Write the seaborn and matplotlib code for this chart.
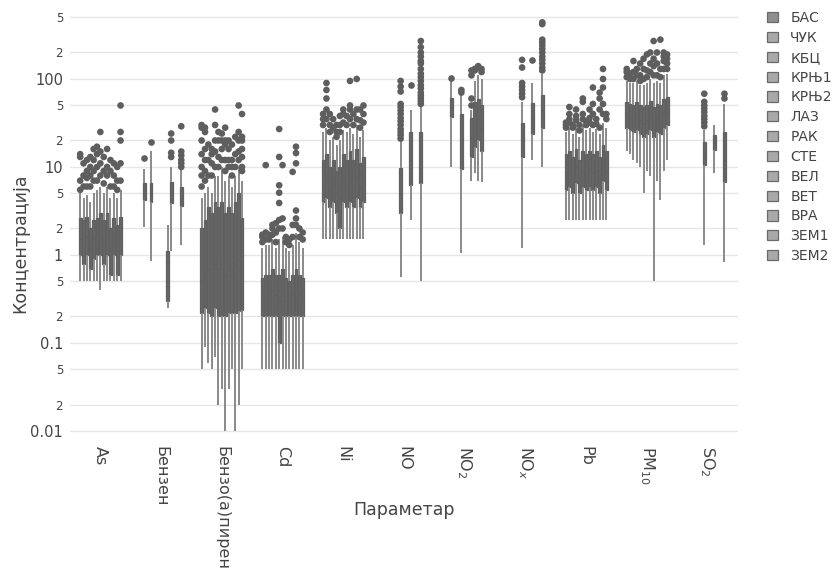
import numpy as np
import pandas as pd
import matplotlib
matplotlib.use("Agg")
import matplotlib.pyplot as plt
from matplotlib.ticker import NullLocator
import seaborn as sns

STATIONS = ["БАС", "ЧУК", "КБЦ", "КРЊ1", "КРЊ2", "ЛАЗ", "РАК",
            "СТЕ", "ВЕЛ", "ВЕТ", "ВРА", "ЗЕМ1", "ЗЕМ2"]
PARAMS = ["As", "Бензен", "Бензо(а)пирен", "Cd", "Ni", "NO",
          "NO2", "NOx", "Pb", "PM10", "SO2"]
PARAM_LABELS = ["As", "Бензен", "Бензо(а)пирен", "Cd", "Ni", "NO",
                r"NO$_2$", r"NO$_x$", "Pb", r"PM$_{10}$", r"SO$_2$"]

# station: (min, q1, median, q3, max, outliers)
AS = {
    "БАС": (0.5, 1.0, 1.5, 2.6, 5.0, [5.5, 7, 13, 14]),
    "ЧУК": (0.5, 0.8, 1.3, 2.5, 4.5, [6, 8, 11]),
    "КБЦ": (0.5, 1.0, 1.6, 2.7, 4.8, [6, 7.5, 9, 12]),
    "КРЊ1": (0.5, 0.7, 1.2, 2.0, 4.0, [6, 8, 10, 13]),
    "КРЊ2": (0.5, 0.9, 1.5, 2.5, 5.0, [7, 9, 12, 16]),
    "ЛАЗ": (0.5, 1.0, 1.8, 2.6, 5.5, [7, 10, 14, 17]),
    "РАК": (0.4, 1.0, 1.5, 3.0, 6.0, [8, 11, 15, 25]),
    "СТЕ": (0.5, 0.8, 1.4, 2.5, 5.0, [6.5, 9, 13]),
    "ВЕЛ": (0.5, 1.0, 1.8, 3.0, 6.0, [8, 10, 16]),
    "ВЕТ": (0.5, 0.6, 1.2, 2.0, 4.5, [6, 9, 12]),
    "ВРА": (0.5, 1.0, 1.6, 2.6, 5.0, [6, 8, 11]),
    "ЗЕМ1": (0.5, 0.6, 1.1, 2.2, 4.5, [5.5, 7, 10]),
    "ЗЕМ2": (0.5, 1.0, 1.7, 2.7, 5.5, [7, 11, 20, 25, 50]),
}
BENZEN = {
    "ЧУК": (2.1, 4.2, 5.0, 6.6, 9.5, [12.5]),
    "КРЊ1": (0.85, 4.0, 5.0, 6.5, 15, [19]),
    "ВЕЛ": (0.25, 0.3, 0.5, 1.1, 2.2, []),
    "ВЕТ": (1.1, 3.9, 5.0, 6.8, 10, [13, 14.5, 20, 24]),
    "ЗЕМ2": (1.3, 3.6, 4.5, 6.0, 9.5, [10, 11, 12, 13.5, 15, 29]),
}
BAP = {
    "БАС": (0.05, 0.22, 0.5, 2.0, 4.5, [6, 8, 10, 14, 20, 28, 30]),
    "ЧУК": (0.09, 0.25, 0.6, 2.5, 5, [7, 9, 12, 16, 25, 28]),
    "КБЦ": (0.06, 0.22, 0.7, 3.5, 6, [8, 12, 18]),
    "КРЊ1": (0.05, 0.2, 0.6, 3.0, 5, [8, 11, 14, 16]),
    "КРЊ2": (0.07, 0.25, 0.8, 4.0, 8, [10, 15, 20, 30, 45]),
    "ЛАЗ": (0.02, 0.2, 0.7, 3.5, 8, [10, 13, 20, 25]),
    "РАК": (0.03, 0.2, 0.8, 4.0, 10, [12, 16, 20, 24]),
    "СТЕ": (0.01, 0.2, 0.6, 3.0, 7, [9, 12, 18, 20, 28]),
    "ВЕЛ": (0.03, 0.22, 0.7, 3.5, 8, [10, 12, 16, 20]),
    "ВЕТ": (0.05, 0.22, 0.6, 3.0, 6, [8, 10, 12, 18]),
    "ВРА": (0.01, 0.22, 0.8, 4.0, 8, [10, 14, 22]),
    "ЗЕМ1": (0.02, 0.23, 0.9, 5.0, 10, [12, 15, 20, 25, 50]),
    "ЗЕМ2": (0.05, 0.24, 0.8, 2.6, 7, [9, 10, 13, 16, 20, 22, 40]),
}
CD = {
    "БАС": (0.05, 0.2, 0.3, 0.55, 1.2, [1.4, 1.6, 1.7]),
    "ЧУК": (0.05, 0.2, 0.3, 0.6, 1.3, [1.5, 1.8, 10.5]),
    "КБЦ": (0.05, 0.2, 0.35, 0.6, 1.3, [1.5, 1.7]),
    "КРЊ1": (0.05, 0.2, 0.4, 0.7, 1.5, [1.7, 2.0, 2.2]),
    "КРЊ2": (0.05, 0.2, 0.35, 0.6, 1.2, [1.4, 1.8, 2.3]),
    "ЛАЗ": (0.05, 0.1, 0.3, 0.6, 1.5, [2.0, 2.5, 3.9, 5.1, 6.2, 13, 27]),
    "РАК": (0.05, 0.2, 0.4, 0.7, 1.6, [2.0, 2.6, 10.5]),
    "СТЕ": (0.05, 0.2, 0.3, 0.55, 1.2, [1.4, 1.6]),
    "ВЕЛ": (0.05, 0.2, 0.3, 0.5, 1.1, [1.3, 1.5]),
    "ВЕТ": (0.05, 0.2, 0.35, 0.6, 1.3, [1.6, 2.2, 8.8]),
    "ВРА": (0.05, 0.2, 0.4, 0.7, 1.8, [2.2, 2.6, 3.2, 11, 14.4, 17]),
    "ЗЕМ1": (0.05, 0.2, 0.35, 0.6, 1.4, [1.6, 2.0]),
    "ЗЕМ2": (0.05, 0.2, 0.3, 0.55, 1.2, [1.5, 1.8]),
}
NI = {
    "БАС": (1.5, 4.0, 6, 12, 25, [30, 35, 40]),
    "ЧУК": (1.5, 4.5, 7, 14, 28, [35, 45, 60, 75, 90]),
    "КБЦ": (1.5, 3.5, 5.5, 10, 20, [25, 30, 40]),
    "КРЊ1": (1.5, 4.0, 6.5, 12, 22, [28, 35]),
    "КРЊ2": (1.5, 3.0, 5, 9, 18, [22, 25, 30]),
    "ЛАЗ": (1.5, 2.0, 4.5, 10, 20, [25, 30, 38]),
    "РАК": (1.5, 4.0, 7, 14, 26, [32, 40, 45]),
    "СТЕ": (1.5, 3.5, 6, 12, 25, [30, 38]),
    "ВЕЛ": (1.5, 4.0, 7, 15, 28, [35, 45, 50, 95]),
    "ВЕТ": (1.5, 3.5, 6, 12, 24, [30, 40]),
    "ВРА": (1.5, 4.5, 8, 16, 30, [35, 45, 100]),
    "ЗЕМ1": (1.5, 3.5, 6, 11, 22, [28, 34, 45]),
    "ЗЕМ2": (1.5, 4.0, 7, 13, 26, [32, 40, 50]),
}
NO = {
    "ЛАЗ": (0.56, 3.0, 5.0, 9.7, 19.5,
            [21, 23, 25, 27, 30, 33, 36, 40, 44, 48, 52, 72, 82, 95]),
    "ВЕЛ": (2.5, 6.2, 12, 25, 44, [85]),
    "ЗЕМ1": (0.5, 6.6, 13, 25, 48,
             [52, 56, 60, 65, 70, 78, 85, 95, 105, 115, 130, 150, 160,
              180, 200, 230, 270]),
}
NO2 = {
    "КБЦ": (10, 37, 47, 61, 95, [102]),
    "ЛАЗ": (1.05, 9.5, 20, 40, 65, [70, 75]),
    "ВЕЛ": (7, 13, 22, 36, 45, [50, 60, 110, 125]),
    "ВЕТ": (8.5, 17, 30, 55, 95, [125, 130]),
    "ВРА": (7, 20, 35, 60, 110, [135, 140]),
    "ЗЕМ1": (6.8, 15, 28, 50, 100, [120, 130]),
}
NOX = {
    "ЛАЗ": (1.2, 13, 20, 32, 55, [62, 68, 75, 82, 90, 135, 165]),
    "ВЕЛ": (12, 24, 35, 53, 90, [165]),
    "ЗЕМ1": (10, 28, 45, 66, 115,
             [125, 135, 150, 165, 180, 200, 220, 240, 260, 280, 420, 440]),
}
PB = {
    "БАС": (2.5, 5.5, 8, 14, 25, [28, 30, 32]),
    "ЧУК": (2.5, 6, 9, 15, 28, [32, 35, 40, 48]),
    "КБЦ": (2.5, 5, 8, 13, 24, [28, 30]),
    "КРЊ1": (2.5, 6.5, 10, 16, 30, [34, 38, 45]),
    "КРЊ2": (2.5, 5, 7.5, 12, 22, [26, 30]),
    "ЛАЗ": (2.5, 6, 9, 15, 30, [35, 40, 55, 60]),
    "РАК": (2.5, 5.5, 8, 14, 26, [30, 33]),
    "СТЕ": (2.5, 6, 9.5, 15, 28, [32, 36, 45]),
    "ВЕЛ": (2.5, 5.5, 8.5, 14, 25, [30, 40, 52, 80]),
    "ВЕТ": (2.5, 6, 9, 15, 27, [31, 35]),
    "ВРА": (2.5, 5, 8, 13, 24, [28, 45, 60, 70]),
    "ЗЕМ1": (2.5, 7, 11, 18, 32, [40, 52, 80, 100, 130]),
    "ЗЕМ2": (2.5, 5.5, 9, 15, 28, [35, 40]),
}
PM10 = {
    "БАС": (15, 28, 38, 55, 95, [105, 120, 130]),
    "ЧУК": (14, 26, 36, 52, 90, [100, 115]),
    "КБЦ": (12, 25, 35, 50, 90, [100, 120, 160]),
    "КРЊ1": (11, 26, 37, 55, 95, [110, 130]),
    "КРЊ2": (10, 24, 34, 50, 85, [95, 110, 150]),
    "ЛАЗ": (5, 22, 32, 48, 85, [100, 130, 170]),
    "РАК": (9, 24, 34, 50, 90, [105, 125, 190]),
    "СТЕ": (8, 26, 38, 56, 100, [120, 150, 200]),
    "ВЕЛ": (0.5, 22, 32, 48, 90, [110, 140, 170, 270]),
    "ВЕТ": (7, 25, 35, 52, 95, [110, 150, 200]),
    "ВРА": (4.2, 24, 33, 50, 90, [105, 130, 280]),
    "ЗЕМ1": (9, 28, 40, 60, 110, [130, 160, 180, 200]),
    "ЗЕМ2": (12, 30, 42, 62, 115, [130, 150, 170, 190]),
}
SO2 = {
    "ЛАЗ": (1.3, 10.5, 14, 19, 26, [29, 32, 35, 38, 42, 46, 50, 55, 68]),
    "ВЕЛ": (8.5, 15.6, 19, 23, 30, []),
    "ЗЕМ1": (0.83, 6.7, 12, 25, 52, [60, 68]),
}

STATION_GREYS = ["#666666"] * 13

BOXES = dict(zip(PARAMS, [AS, BENZEN, BAP, CD, NI, NO, NO2, NOX, PB, PM10, SO2]))

rows, out_rows = [], []
for param, boxes in BOXES.items():
    for st, (lo, q1, med, q3, hi, outl) in boxes.items():
        for v in (lo, q1, med, q3, hi):
            rows.append((param, st, v))
        for v in outl:
            out_rows.append((param, st, v))
df = pd.DataFrame(rows, columns=["param", "station", "value"])
df_out = pd.DataFrame(out_rows, columns=["param", "station", "value"])

sns.set_theme(style="white")
plt.rcParams["font.family"] = ["DejaVu Sans"]

BOX_WIDTH = 0.72

fig = plt.figure(figsize=(8.39, 5.83), dpi=100)
ax = fig.add_axes([70 / 839, 143 / 583, 668 / 839, 435 / 583])

sns.boxplot(data=df, x="param", y="value", hue="station",
            order=PARAMS, hue_order=STATIONS, palette=STATION_GREYS,
            linecolor="#606060", linewidth=0.9, width=BOX_WIDTH, gap=0.15,
            whis=(0, 100), showfliers=False, showcaps=False, log_scale=True,
            whiskerprops={"color": "#8a8a8a", "linewidth": 1.4},
            medianprops={"color": "#606060", "linewidth": 0.9}, ax=ax)

n_before = len(ax.collections)
sns.stripplot(data=df_out, x="param", y="value", hue="station",
              order=PARAMS, hue_order=STATIONS,
              palette={s: "#5e5e5e" for s in STATIONS},
              dodge=True, jitter=False, size=4.8, linewidth=0,
              legend=False, ax=ax)
# stripplot dodges over 0.8 of the category, pull it in to the box width
for coll in ax.collections[n_before:]:
    off = np.asarray(coll.get_offsets()).copy()
    if len(off) == 0:
        continue
    cx = np.round(off[:, 0])
    off[:, 0] = cx + (off[:, 0] - cx) * BOX_WIDTH / 0.8
    coll.set_offsets(off)

ax.set_xlim(-0.5, 10.5)
ax.set_ylim(0.0079, 693)

ticks = [0.01, 0.02, 0.05, 0.1, 0.2, 0.5, 1, 2, 5, 10, 20, 50, 100, 200, 500]
tick_labels = ["0.01", "2", "5", "0.1", "2", "5", "1", "2", "5",
               "10", "2", "5", "100", "2", "5"]
ax.set_yticks(ticks)
ax.set_yticklabels(tick_labels)
ax.yaxis.set_minor_locator(NullLocator())
for t, lab in zip(ax.get_yticklabels(), tick_labels):
    t.set_fontsize(8.5 if lab in ("2", "5") else 10.5)
    t.set_color("#444444")

ax.set_xticks(range(len(PARAMS)))
ax.set_xticklabels(PARAM_LABELS, rotation=-90, va="top", ha="center",
                   fontsize=11.5, color="#444444")
ax.tick_params(axis="both", length=0)
ax.tick_params(axis="x", pad=4)
ax.tick_params(axis="y", pad=5)

ax.yaxis.grid(True, color="#e6e6e6", linewidth=1)
ax.xaxis.grid(False)
ax.set_axisbelow(True)
for sp in ax.spines.values():
    sp.set_visible(False)

ax.set_xlabel("Параметар", fontsize=12.5, color="#444444")
ax.set_ylabel("Концентрација", fontsize=12.5, color="#444444")
ax.xaxis.set_label_coords(0.5, -0.14)
ax.yaxis.set_label_coords(-0.075, 0.453)
ax.yaxis.label.set_va("center")

sns.move_legend(ax, "upper left", bbox_to_anchor=(1.044, 0.986), frameon=False,
                title=None, fontsize=10, handlelength=0.75, handleheight=0.75,
                handletextpad=0.9, labelspacing=0.42, borderaxespad=0,
                borderpad=0)
leg = ax.get_legend()
for i, h in enumerate(leg.legend_handles):
    h.set_facecolor("#8e8e8e" if i == 0 else "#a8a8a8")
    h.set_edgecolor("#6a6a6a")
for txt in leg.get_texts():
    txt.set_color("#444444")

fig.savefig("out.png", dpi=100, facecolor="white")
